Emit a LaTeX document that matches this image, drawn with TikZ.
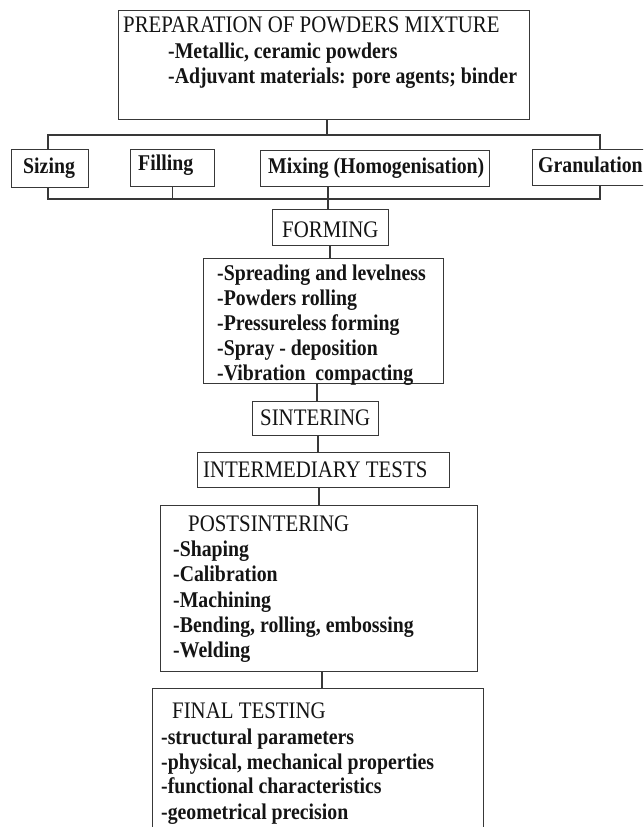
\documentclass[tikz,border=0pt]{standalone}
\usepackage{fontspec}
\setmainfont{Liberation Serif}[FakeStretch=0.88]
\begin{document}
\begin{tikzpicture}[x=1pt,y=-1pt,
  box/.style={draw=black!78, line width=1.3pt, fill=white, inner sep=0pt, anchor=north west},
  txt/.style={inner sep=0pt, anchor=base west, text=black!92, font=\fontsize{23.7}{25}\selectfont},
  btxt/.style={txt, font=\fontsize{22.5}{25}\selectfont\bfseries},
  conn/.style={draw=black!78, line width=1.3pt}]
\clip (0,0) rectangle (643,827);
\fill[white] (0,0) rectangle (643,827);
% boxes
\node[box, minimum width=411pt, minimum height=109pt] (top) at (118,10) {};
\node[box, minimum width=77pt, minimum height=38pt] (sizing) at (11,149) {};
\node[box, minimum width=84pt, minimum height=37pt] (filling) at (130,149) {};
\node[box, minimum width=229pt, minimum height=36pt] (mixing) at (260,150) {};
\node[box, minimum width=120pt, minimum height=36pt] (gran) at (532,149) {};
\node[box, minimum width=116pt, minimum height=36pt] (forming) at (272,209) {};
\node[box, minimum width=240pt, minimum height=125pt] (list) at (203,258) {};
\node[box, minimum width=126pt, minimum height=34pt] (sinter) at (252,401) {};
\node[box, minimum width=252pt, minimum height=35pt] (inter) at (197,452) {};
\node[box, minimum width=317pt, minimum height=166pt] (post) at (160,505) {};
\node[box, minimum width=331pt, minimum height=160pt] (final) at (152,688) {};
% bus coordinates
\coordinate (tl) at (48,135);
\coordinate (tr) at (600,135);
\coordinate (bl) at (48,199);
\coordinate (br) at (600,199);
\coordinate (tc) at (327,135);
\coordinate (mx) at (328,199);
\coordinate (fx) at (330,0);
\coordinate (lx) at (317,0);
\coordinate (sx) at (318,0);
\coordinate (ix) at (319,0);
\coordinate (px) at (322,0);
% connectors
\draw[conn] (top.south -| tc) -- (tc);
\draw[conn] (sizing.north -| tl) -- (tl) -- (tr) -- (gran.north -| tr);
\draw[conn] (sizing.south -| bl) -- (bl) -- (br) -- (gran.south -| br);
\draw[conn] (filling.south) -- (filling.south |- bl);
\draw[conn] (mixing.south -| mx) -- (forming.north -| mx);
\draw[conn] (forming.south -| fx) -- (list.north -| fx);
\draw[conn] (list.south -| lx) -- (sinter.north -| lx);
\draw[conn] (sinter.south -| sx) -- (inter.north -| sx);
\draw[conn] (inter.south -| ix) -- (post.north -| ix);
\draw[conn] (post.south -| px) -- (final.north -| px);
% texts
\node[txt] (t1) at (123,32) {PREPARATION OF POWDERS MIXTURE};
\node[btxt] (t2) at (168,58) {-Metallic, ceramic powders};
\node[btxt] (t3) at (168,83) {-Adjuvant materials: pore agents; binder};
\node[btxt] (t4) at (23,173) {Sizing};
\node[btxt] (t5) at (138,170) {Filling};
\node[btxt] (t6) at (268,173) {Mixing (Homogenisation)};
\node[btxt] (t7) at (538,172) {Granulation};
\node[txt] (t8) at (282,237) {FORMING};
\node[btxt] (l1) at (217,280) {-Spreading and levelness};
\node[btxt] (l2) at (217,305) {-Powders rolling};
\node[btxt] (l3) at (217,330) {-Pressureless forming};
\node[btxt] (l4) at (217,355) {-Spray - deposition};
\node[btxt] (l5) at (217,380) {-Vibration\ \ compacting};
\node[txt] (t9) at (260,425) {SINTERING};
\node[txt] (t10) at (203,477) {INTERMEDIARY TESTS};
\node[txt] (t11) at (188,531) {POSTSINTERING};
\node[btxt] (p1) at (173,556) {-Shaping};
\node[btxt] (p2) at (173,581) {-Calibration};
\node[btxt] (p3) at (173,607) {-Machining};
\node[btxt] (p4) at (173,632) {-Bending, rolling, embossing};
\node[btxt] (p5) at (173,657) {-Welding};
\node[txt] (t12) at (172,718) {FINAL TESTING};
\node[btxt] (f1) at (161,744) {-structural parameters};
\node[btxt] (f2) at (161,769) {-physical, mechanical properties};
\node[btxt] (f3) at (161,793) {-functional characteristics};
\node[btxt] (f4) at (161,819) {-geometrical precision};
\end{tikzpicture}
\end{document}
